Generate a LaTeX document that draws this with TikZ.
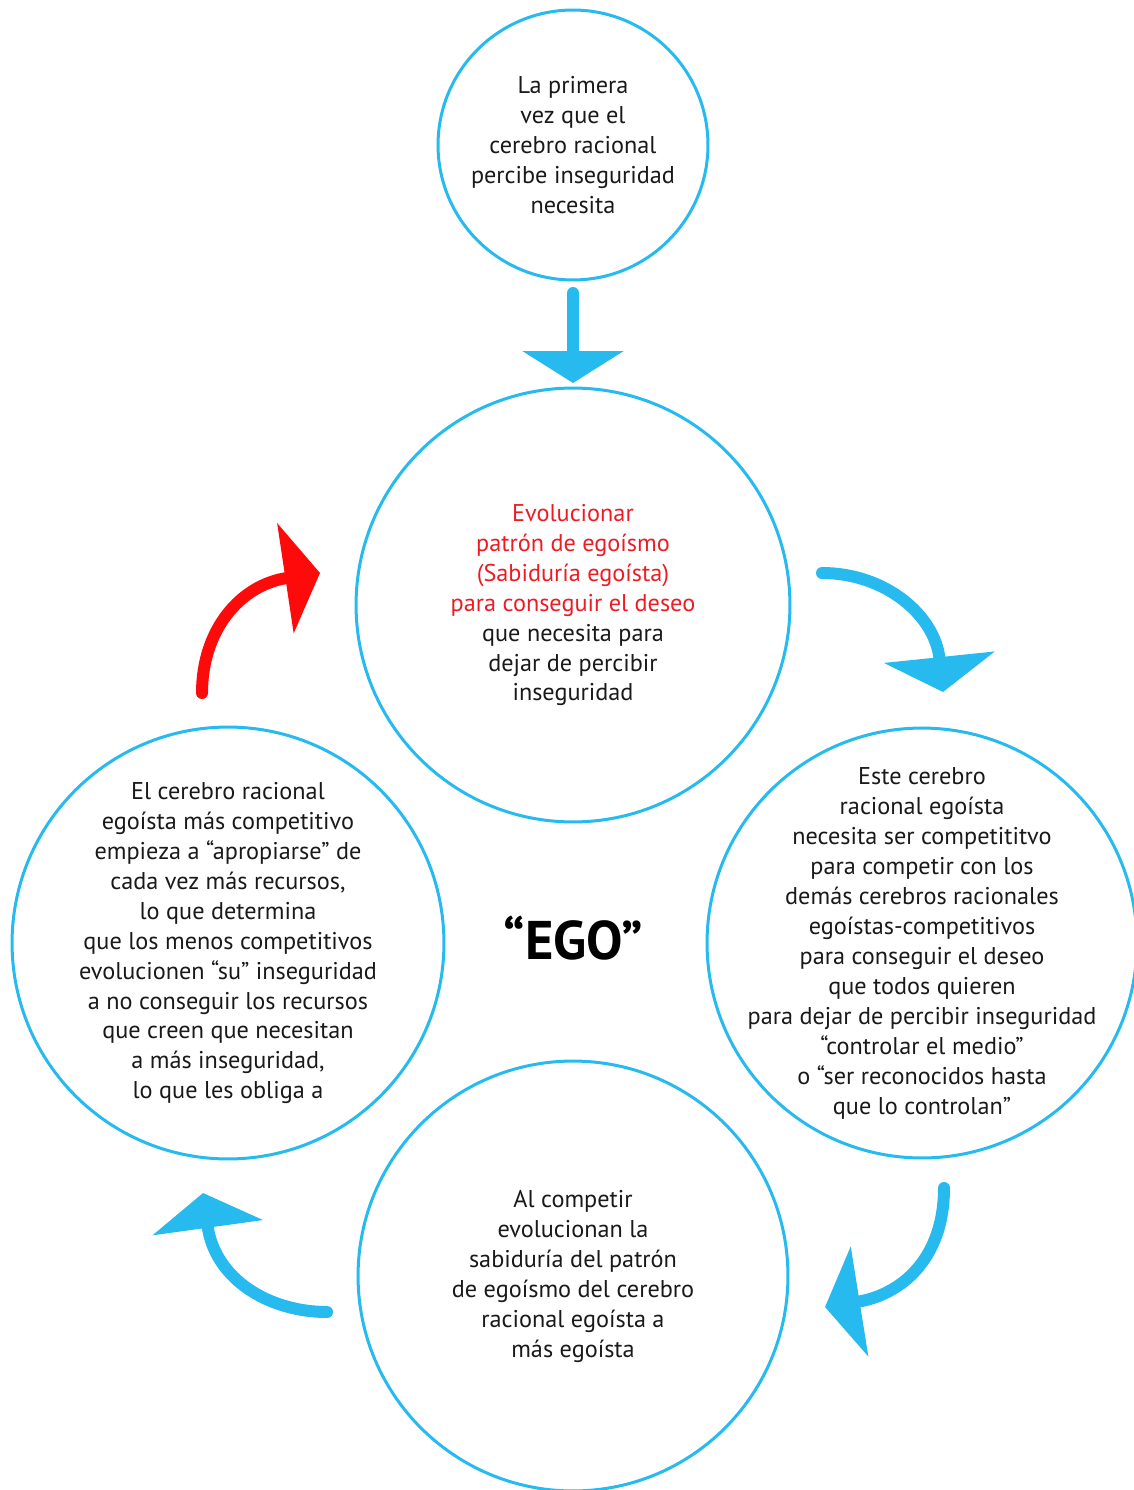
\documentclass[tikz,border=0pt]{standalone}
\usepackage{fontspec}
\setmainfont{PT Sans}
\usetikzlibrary{arrows.meta,positioning,calc}
\definecolor{egoblue}{RGB}{38,186,238}
\definecolor{egored}{RGB}{255,10,10}
\definecolor{egotext}{RGB}{237,28,36}
\tikzset{
  bubble/.style={circle, draw=egoblue, line width=0.06cm, inner sep=-2cm,
    align=center, text=black!90, font=\fontsize{13.8}{17.07}\selectfont},
  cycarrow/.style={line width=0.24cm, line cap=round, egoblue,
    -{Triangle[width=2.2cm, length=0.7cm]}},
}

\begin{document}
\begin{tikzpicture}[x=0.02cm, y=-0.02cm]
    \useasboundingbox (0,0) rectangle (1133,1490);
    % define circles
    \node[bubble, minimum size=5.4cm] (top_circle) at (573,145)
        {La primera\\vez que el\\cerebro racional\\percibe inseguridad\\necesita};
    \node[bubble, minimum size=8.68cm] (mid_circle) at (573,605)
        {\textcolor{egotext}{Evolucionar}\\\textcolor{egotext}{patrón de egoísmo}\\
         \textcolor{egotext}{(Sabiduría egoísta)}\\\textcolor{egotext}{para conseguir el deseo}\\
         que necesita para\\dejar de percibir\\inseguridad};
    \node[bubble, minimum size=8.6cm] (right_circle) at (922,943)
        {Este cerebro\\racional egoísta\\necesita ser competititvo\\para competir con los\\
         demás cerebros racionales\\egoístas-competitivos\\para conseguir el deseo\\
         que todos quieren\\para dejar de percibir inseguridad\\“controlar el medio”\\
         o “ser reconocidos hasta\\que lo controlan”};
    \node[bubble, minimum size=8.64cm] (left_circle) at (228,943)
        {El cerebro racional\\egoísta más competitivo\\empieza a “apropiarse” de\\
         cada vez más recursos,\\lo que determina\\que los menos competitivos\\
         evolucionen “su” inseguridad\\a no conseguir los recursos\\
         que creen que necesitan\\a más inseguridad,\\lo que les obliga a};
    \node[bubble, minimum size=8.6cm] (bot_circle) at (573,1276)
        {Al competir\\evolucionan la\\sabiduría del patrón\\de egoísmo del cerebro\\
         racional egoísta a\\más egoísta};
    % centre label
    \node[font=\fontsize{31}{33}\selectfont\bfseries] (ego_label) at (573,938) {“EGO”};
    % arrow end points
    \coordinate (down_start) at (573,293);
    \coordinate (down_end) at (573,383);
    \coordinate (tr_start) at (822,573);
    \coordinate (tr_end) at (943,692);
    \coordinate (br_start) at (944,1188);
    \coordinate (br_end) at (825,1307);
    \coordinate (bl_start) at (327,1312);
    \coordinate (bl_end) at (203,1193);
    \coordinate (red_start) at (202,693);
    \coordinate (red_end) at (320,573);
    % draw arrows
    \draw[cycarrow, -{Triangle[width=2cm, length=0.64cm]}] (down_start) -- (down_end);
    \draw[cycarrow] (tr_start) .. controls (885,573) and (935,615) .. (tr_end);
    \draw[cycarrow] (br_start) .. controls (944,1260) and (900,1295) .. (br_end);
    \draw[cycarrow] (bl_start) .. controls (270,1312) and (215,1280) .. (bl_end);
    \draw[cycarrow, egored] (red_start) .. controls (202,630) and (240,585) .. (red_end);
\end{tikzpicture}
\end{document}
